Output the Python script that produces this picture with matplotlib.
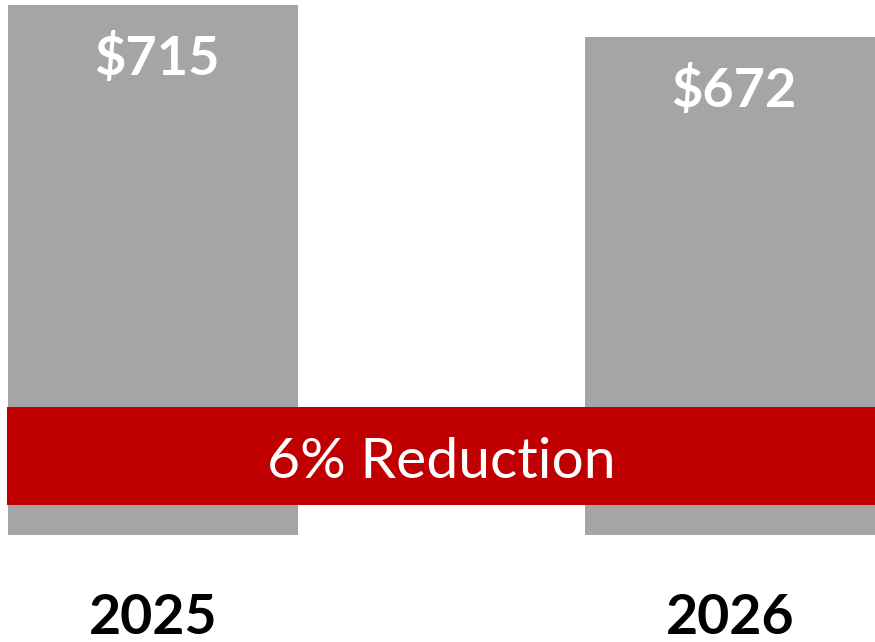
import matplotlib
matplotlib.use('Agg')
import matplotlib.pyplot as plt

# === data ===
years = ['2025', '2026']
costs = [715, 672]

BAR_COLOR = '#A5A5A5'
BAND_COLOR = '#C00000'
FONT = ['Lato', 'DejaVu Sans']

plt.rcParams['font.family'] = FONT

fig = plt.figure(figsize=(8.75, 6.42), dpi=100)
ax = fig.add_axes([0, 0, 1, 1])
ax.set_axis_off()

xs = list(range(len(years)))
ax.bar(xs, costs, width=0.5026, color=BAR_COLOR, zorder=1)

# 像素对齐: 柱中心 153px / 730px, 基线 535px
ax.set_xlim(-0.2652, 1.2513)
ax.set_ylim(-144.3, 721.7)

# 柱顶数值
for x, v in zip(xs, costs):
    ax.annotate(f'${v}', (x, v), xytext=(3, -50.5), textcoords='offset points',
                ha='center', va='baseline', fontsize=39, fontweight='bold',
                color='white', zorder=3)

# 年份标签
for x, y in zip(xs, years):
    ax.annotate(y, (x, 0), xytext=(0, -71.5), textcoords='offset points',
                ha='center', va='baseline', fontsize=40, fontweight='bold',
                color='black', annotation_clip=False)

# 红色降幅带
pct = round((costs[0] - costs[1]) / costs[0] * 100)
ax.axhspan(40.5, 172.7, xmin=7 / 875, xmax=1, color=BAND_COLOR, lw=0, zorder=2)
ax.text(0.5, 77, f'{pct}% Reduction', ha='center', va='baseline',
        fontsize=41, color='white', zorder=3)

fig.savefig('out.png', dpi=100, facecolor='white')
